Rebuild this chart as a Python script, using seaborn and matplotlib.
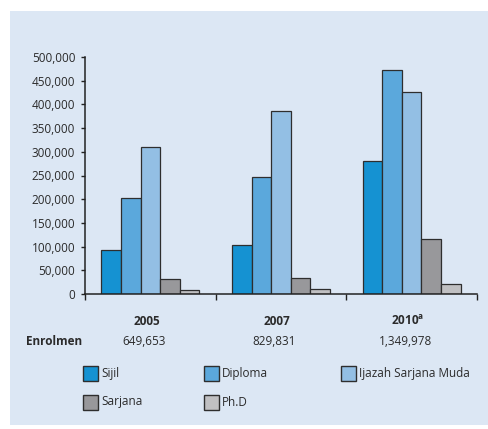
import numpy as np
import pandas as pd
import matplotlib.pyplot as plt
import seaborn as sns
from matplotlib.patches import Rectangle
from matplotlib.ticker import FuncFormatter

# data
years = ['2005', '2007', '2010']
year_labels = ['2005', '2007', r'2010$^{\mathbf{a}}$']
enrolmen = ['649,653', '829,831', '1,349,978']
levels = ['Sijil', 'Diploma', 'Ijazah Sarjana Muda', 'Sarjana', 'Ph.D']
sijil = [93000, 103000, 281000]
diploma = [202000, 247000, 473000]
ijazah = [310000, 387000, 427000]
sarjana = [31000, 34000, 115000]
phd = [7500, 9500, 22000]
colors = ['#1592d2', '#5ba8dc', '#93bfe4', '#98989b', '#c0c0c2']

BG = '#dce7f4'
TEXT = '#2b2b2b'
W, H = 488, 429


def fig_xy(px, py):
    return px / W, 1 - py / H


def build_frame():
    values = sijil + diploma + ijazah + sarjana + phd
    return pd.DataFrame({
        'year': years * len(levels),
        'level': np.repeat(levels, len(years)),
        'value': values,
    })


def plot_enrolment(df):
    plt.rcParams['font.family'] = ['Open Sans', 'DejaVu Sans']
    plt.rcParams['mathtext.fontset'] = 'custom'
    plt.rcParams['mathtext.bf'] = 'Open Sans:bold'
    plt.rcParams['mathtext.rm'] = 'Open Sans'

    fig = plt.figure(figsize=(W / 100, H / 100), dpi=100)
    fig.patches.append(Rectangle(fig_xy(10, 425), 1 - 10 / W, 414 / H,
                                 transform=fig.transFigure, facecolor=BG,
                                 edgecolor='none', zorder=-10))
    ax = fig.add_axes([85 / W, 1 - 294 / H, 392 / W, 237 / H])
    ax.set_facecolor('none')

    sns.barplot(data=df, x='year', y='value', hue='level', order=years,
                hue_order=levels, palette=colors, saturation=1, width=0.75,
                edgecolor='#2e2e2e', linewidth=0.9, legend=False, ax=ax)

    ax.set_xlim(-0.5, 2.5)
    ax.set_ylim(0, 500000)
    ax.set_yticks(range(0, 500001, 50000))
    ax.yaxis.set_major_formatter(FuncFormatter(lambda v, p: f'{v:,.0f}'))
    ax.set_xticks([-0.5, 0.5, 1.5, 2.5])
    ax.set_xticklabels([])
    ax.tick_params(axis='y', direction='out', length=3, width=1, pad=4,
                   labelsize=8.5, colors='#222222', labelcolor=TEXT)
    ax.tick_params(axis='x', direction='out', length=4.5, width=1,
                   colors='#222222')
    ax.set_xlabel('')
    ax.set_ylabel('')
    for side in ['top', 'right']:
        ax.spines[side].set_visible(False)
    for side in ['left', 'bottom']:
        ax.spines[side].set_color('#222222')
        ax.spines[side].set_linewidth(1.1)

    trans = ax.get_xaxis_transform()
    for i, (lab, n) in enumerate(zip(year_labels, enrolmen)):
        ax.text(i - 0.03, -0.114, lab, transform=trans, ha='center',
                va='center', fontsize=8.5, fontweight='bold', color=TEXT)
        ax.text(i - 0.05, -0.2025, n, transform=trans, ha='center',
                va='center', fontsize=8.5, color=TEXT)
    fig.text(*fig_xy(26, 341.5), 'Enrolmen', ha='left', va='center',
             fontsize=8.5, fontweight='bold', color=TEXT)

    # legend laid out as in the reference: two rows, three columns
    slots = [(83, 373.5), (204, 373.5), (341, 373.5), (83, 402), (204, 402)]
    for (px, py), lab, col in zip(slots, levels, colors):
        fig.patches.append(Rectangle(fig_xy(px, py + 7.5), 15 / W, 15 / H,
                                     transform=fig.transFigure, facecolor=col,
                                     edgecolor='#2e2e2e', linewidth=1))
        fig.text(*fig_xy(px + 18, py), lab, ha='left', va='center',
                 fontsize=8.5, color=TEXT)

    fig.savefig('out.png', dpi=100, facecolor='white')


plot_enrolment(build_frame())
